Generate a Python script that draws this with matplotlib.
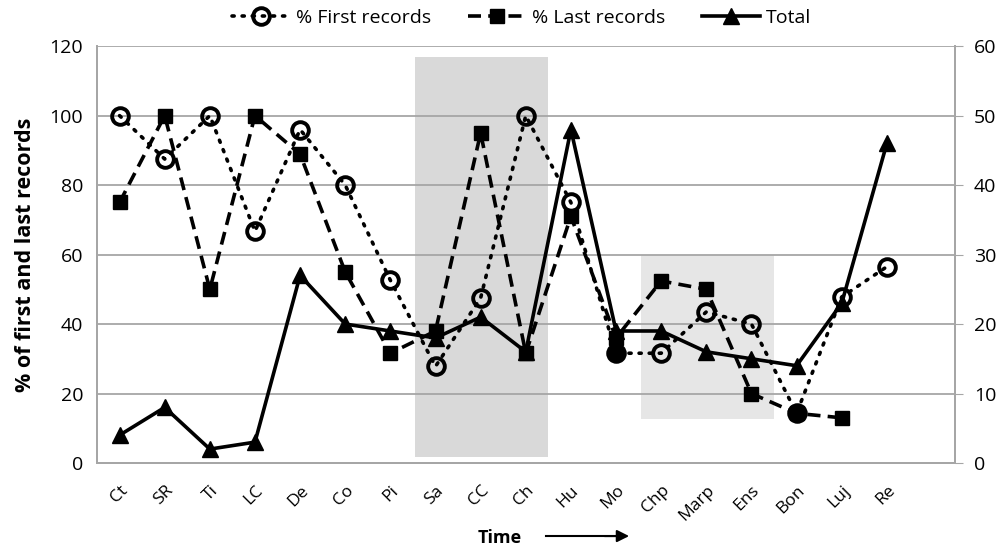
import numpy as np
import matplotlib.pyplot as plt
from matplotlib.patches import Rectangle

plt.rcParams['font.family'] = ['Open Sans', 'DejaVu Sans']

# Sites in time order (last slot on the axis stays empty)
sites = ['Ct', 'SR', 'Ti', 'LC', 'De', 'Co', 'Pi', 'Sa', 'CC', 'Ch',
         'Hu', 'Mo', 'Chp', 'Marp', 'Ens', 'Bon', 'Luj', 'Re']

# % first records (left axis)
first_rec = [100, 87.5, 100, 66.7, 96, 80, 52.6, 27.8, 47.5, 100,
             75, 31.6, 31.6, 43.5, 40, 14.3, 47.8, 56.5]
# points drawn with a filled circle
first_filled = ['Mo', 'Bon']

# % last records (left axis), none for Re
last_rec = [75, 100, 50, 100, 88.9, 55, 31.6, 38, 95, 31.6,
            71, 36, 52.4, 50, 20, 14.3, 13]

# Total (right axis)
total = [4, 8, 2, 3, 27, 20, 19, 18, 21, 16,
         48, 19, 19, 16, 15, 14, 23, 46]

# shaded periods: (first site, last site, bottom %, top %)
dark_band = ('Sa', 'Ch', 1.7, 116.8)
light_band = ('Chp', 'Ens', 12.7, 59.9)

x = np.arange(len(sites))
idx = {s: i for i, s in enumerate(sites)}

fig = plt.figure(figsize=(10.03, 5.47), dpi=100)
ax = fig.add_axes([0.0967, 0.1536, 0.855, 0.762])
ax2 = ax.twinx()
ax.set_zorder(ax2.get_zorder() + 1)
ax.patch.set_visible(False)

# shaded bands
for band, col in [(dark_band, '#d9d9d9'), (light_band, '#e6e6e6')]:
    s0, s1, lo, hi = band
    x0 = idx[s0] - 0.45
    x1 = idx[s1] + 0.5
    ax2.add_patch(Rectangle((x0, lo / 2), x1 - x0, (hi - lo) / 2,
                            facecolor=col, edgecolor='none', zorder=0))

# gridlines
for v in range(0, 121, 20):
    ax.axhline(v, color='#a6a6a6', lw=1.3, zorder=1)

l1, = ax.plot(x, first_rec, color='black', lw=2.6, linestyle=(0, (0.6, 2.2)),
              dash_capstyle='round', marker='o', ms=12, mfc='none',
              mec='black', mew=2.8, zorder=3, label='% First records')
fx = [idx[s] for s in first_filled]
ax.plot(fx, [first_rec[i] for i in fx], linestyle='none', marker='o', ms=12,
        color='black', zorder=4)

xl = np.arange(len(last_rec))
l2, = ax.plot(xl, last_rec, color='black', lw=2.6, linestyle=(0, (3.6, 2.0)),
              marker='s', ms=10, mfc='black', mec='black', zorder=3,
              label='% Last records')

l3, = ax.plot(x, np.array(total) * 2, color='black', lw=2.6, marker='^',
              ms=11, zorder=4, label='Total')

ax.set_xlim(-0.5, len(sites) + 0.5)
ax.set_ylim(0, 120)
ax2.set_ylim(0, 60)
ax.set_yticks(range(0, 121, 20))
ax2.set_yticks(range(0, 61, 10))
ax.set_xticks(x)
ax.set_xticklabels(sites, rotation=45, ha='right', rotation_mode='anchor',
                   fontsize=12.5)
ax.tick_params(axis='x', length=0, pad=14)
ax.tick_params(axis='y', length=0, labelsize=14, pad=10)
ax2.tick_params(axis='y', length=6, color='#a6a6a6', labelsize=14, pad=8)

for a in (ax, ax2):
    a.spines['top'].set_visible(False)
    for side in ('left', 'right', 'bottom'):
        a.spines[side].set_color('#a6a6a6')
        a.spines[side].set_linewidth(1.3)

ax.set_ylabel('% of first and last records', fontsize=15.5, fontweight='bold',
              labelpad=10)

fig.text(0.498, 0.008, 'Time', fontsize=13, fontweight='bold', ha='center')
fig.add_artist(plt.Line2D([0.544, 0.615], [0.020, 0.020], color='black',
                          lw=1.5))
ax.annotate('', xy=(0.630, 0.020), xytext=(0.600, 0.020),
            xycoords='figure fraction',
            arrowprops=dict(arrowstyle='-|>', color='black', lw=1.5,
                            mutation_scale=18))

fig.legend(handles=[l1, l2, l3], loc='upper center', ncol=3, frameon=False,
           bbox_to_anchor=(0.52, 1.015), fontsize=14, handlelength=3.0,
           columnspacing=1.9, handletextpad=0.3)

fig.savefig('out.png', dpi=100)
